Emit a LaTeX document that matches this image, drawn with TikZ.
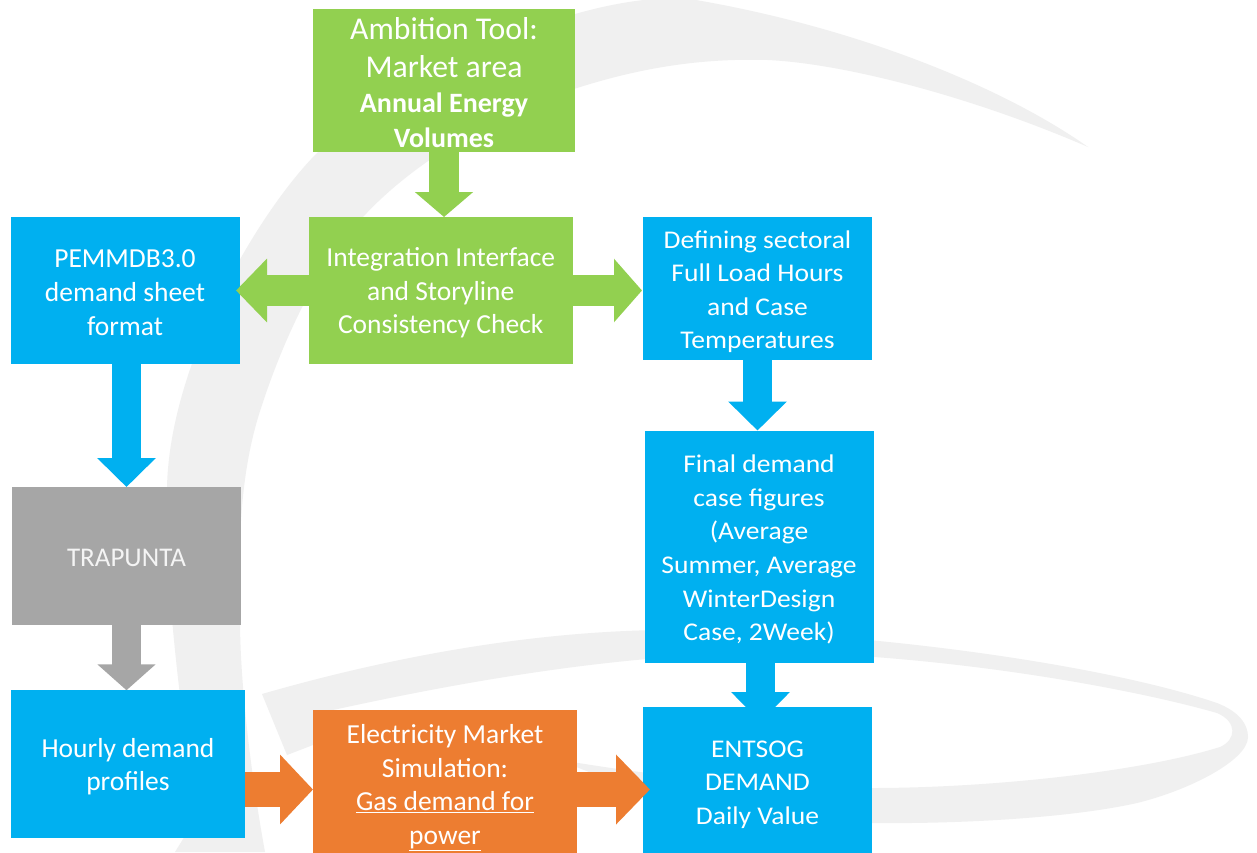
\documentclass[tikz,border=0pt]{standalone}
\usepackage{fontspec}
\setmainfont{Carlito}
\newfontfamily\widefont[FakeStretch=1.08]{Carlito}
\usetikzlibrary{arrows.meta,calc}
\definecolor{cblue}{HTML}{00B0F0}
\definecolor{cgreen}{HTML}{92D050}
\definecolor{cgray}{HTML}{A6A6A6}
\definecolor{corange}{HTML}{ED7D31}
\definecolor{swoosh}{HTML}{F0F0F0}
\newcommand\topstrut[1]{\rule{0pt}{#1pt}}
\tikzset{
  box/.style={inner sep=0pt,outer sep=0pt,text=white,align=center,font=\fontsize{27.5}{33.6}\selectfont},
  widebox/.style={box,font=\widefont\fontsize{25.5}{33.6}\selectfont},
  fat/.style={line width=29.5pt,-{Triangle[length=#1,width=57pt,sep=0pt]}},
  fat/.default=27pt,
  wfat/.style={line width=31pt,-{Triangle[length=#1,width=62pt,sep=0pt]}},
  ofat/.style={line width=35pt,-{Triangle[length=#1,width=68pt,sep=0pt]}},
  swooshfill/.style={fill=swoosh,draw=none}
}
\begin{document}
\begin{tikzpicture}[x=1pt,y=-1pt]
\useasboundingbox (0,0) rectangle (1257,852);
\clip (0,0) rectangle (1257,852);
% background
\fill[white] (0,0) rectangle (1257,852);
\path[swooshfill]
  (1088,147) .. controls (1000,85) and (850,25) .. (684,-2)
  .. controls (560,-5) and (390,85) .. (317,153)
  .. controls (260,210) and (170,360) .. (167,487)
  .. controls (163,560) and (180,720) .. (198,815)
  -- (175,852) -- (265,852)
  .. controls (250,770) and (240,680) .. (240,620)
  .. controls (238,540) and (240,470) .. (262,405)
  .. controls (285,335) and (320,262) .. (363,217)
  .. controls (420,155) and (510,108) .. (577,88)
  .. controls (640,68) and (700,58) .. (768,60)
  .. controls (850,64) and (980,100) .. (1088,147) -- cycle;
\path[swooshfill]
  (262,694) .. controls (380,660) and (520,632) .. (660,630)
  .. controls (830,628) and (1090,660) .. (1217,703)
  .. controls (1240,712) and (1248,725) .. (1248,737)
  .. controls (1248,760) and (1190,790) .. (1137,803)
  .. controls (1070,818) and (960,824) .. (872,823)
  .. controls (760,820) and (650,800) .. (560,760)
  .. controls (650,775) and (770,790) .. (872,788)
  .. controls (990,788) and (1140,772) .. (1220,747)
  .. controls (1236,740) and (1238,722) .. (1217,713)
  .. controls (1130,688) and (960,658) .. (800,653)
  .. controls (640,650) and (470,680) .. (333,710)
  -- (313,745) -- (287,755) -- cycle;
% boxes and connectors
\node[box,fill=cgreen,minimum width=262pt,minimum height=143pt,font=\fontsize{31.7}{38}\selectfont] (amb) at (444,80.5)
  {\topstrut{27}Ambition Tool:\\Market area\\[-3pt]{\fontsize{28}{33}\selectfont\bfseries Annual Energy}\\[-3pt]{\fontsize{28}{33}\selectfont\bfseries Volumes}};
\node[box,fill=cgreen,minimum width=264.5pt,minimum height=147pt] (integ) at (440.75,290.5)
  {\topstrut{24}Integration Interface\\and Storyline\\Consistency Check};
\node[box,fill=cblue,minimum width=229pt,minimum height=147pt] (pemm) at (125,290.5)
  {\topstrut{22}PEMMDB3.0\\demand sheet\\format};
\node[widebox,fill=cblue,minimum width=229pt,minimum height=143pt] (def) at (757.5,288.5)
  {\topstrut{24}Defining sectoral\\Full Load Hours\\and Case\\Temperatures};
\node[widebox,fill=cblue,minimum width=229pt,minimum height=232pt] (final) at (759,546.5)
  {\topstrut{24}Final demand\\case figures\\(Average\\Summer, Average\\WinterDesign\\Case, 2Week)};
\node[box,fill=cgray,text=white!88!cgray,minimum width=229pt,minimum height=138pt,font=\fontsize{27}{33.6}\selectfont] (trap) at (126.5,556) {\topstrut{22}TRAPUNTA};
\node[box,fill=cblue,minimum width=234pt,minimum height=147.5pt] (hourly) at (128,764)
  {\topstrut{24}Hourly demand\\profiles};
\node[box,fill=corange,minimum width=264pt,minimum height=150pt] (elec) at (445,785)
  {\topstrut{24}Electricity Market\\Simulation:\\\underline{Gas demand for}\\\underline{power}};
\coordinate (etip) at (760.5,722);
\draw[fat=30pt,cblue] (final.south -| etip) -- (etip);
\node[widebox,fill=cblue,minimum width=229pt,minimum height=150pt] (ent) at (757.5,782)
  {\topstrut{22}ENTSOG\\DEMAND\\Daily Value};
\coordinate (flow) at (0,789.5);
\draw[fat=25pt,cgreen] (amb.south) -- (amb.south |- integ.north);
\draw[wfat=31pt,cgreen] (integ.west) -- ([xshift=-3.5pt]pemm.east |- integ.west);
\draw[wfat=28pt,cgreen] (integ.east) -- ([xshift=-1pt]integ.east -| def.west);
\draw[fat=29pt,cblue] (trap.north |- pemm.south) -- (trap.north);
\draw[fat=26pt,cgray] (trap.south) -- (trap.south |- hourly.north);
\draw[fat=29pt,cblue] (def.south) -- (def.south |- final.north);
\draw[ofat=33pt,corange] (hourly.east |- flow) -- (elec.west |- flow);
\draw[ofat=34pt,corange] (elec.east |- flow) -- ([xshift=7pt]ent.west |- flow);
\end{tikzpicture}
\end{document}
